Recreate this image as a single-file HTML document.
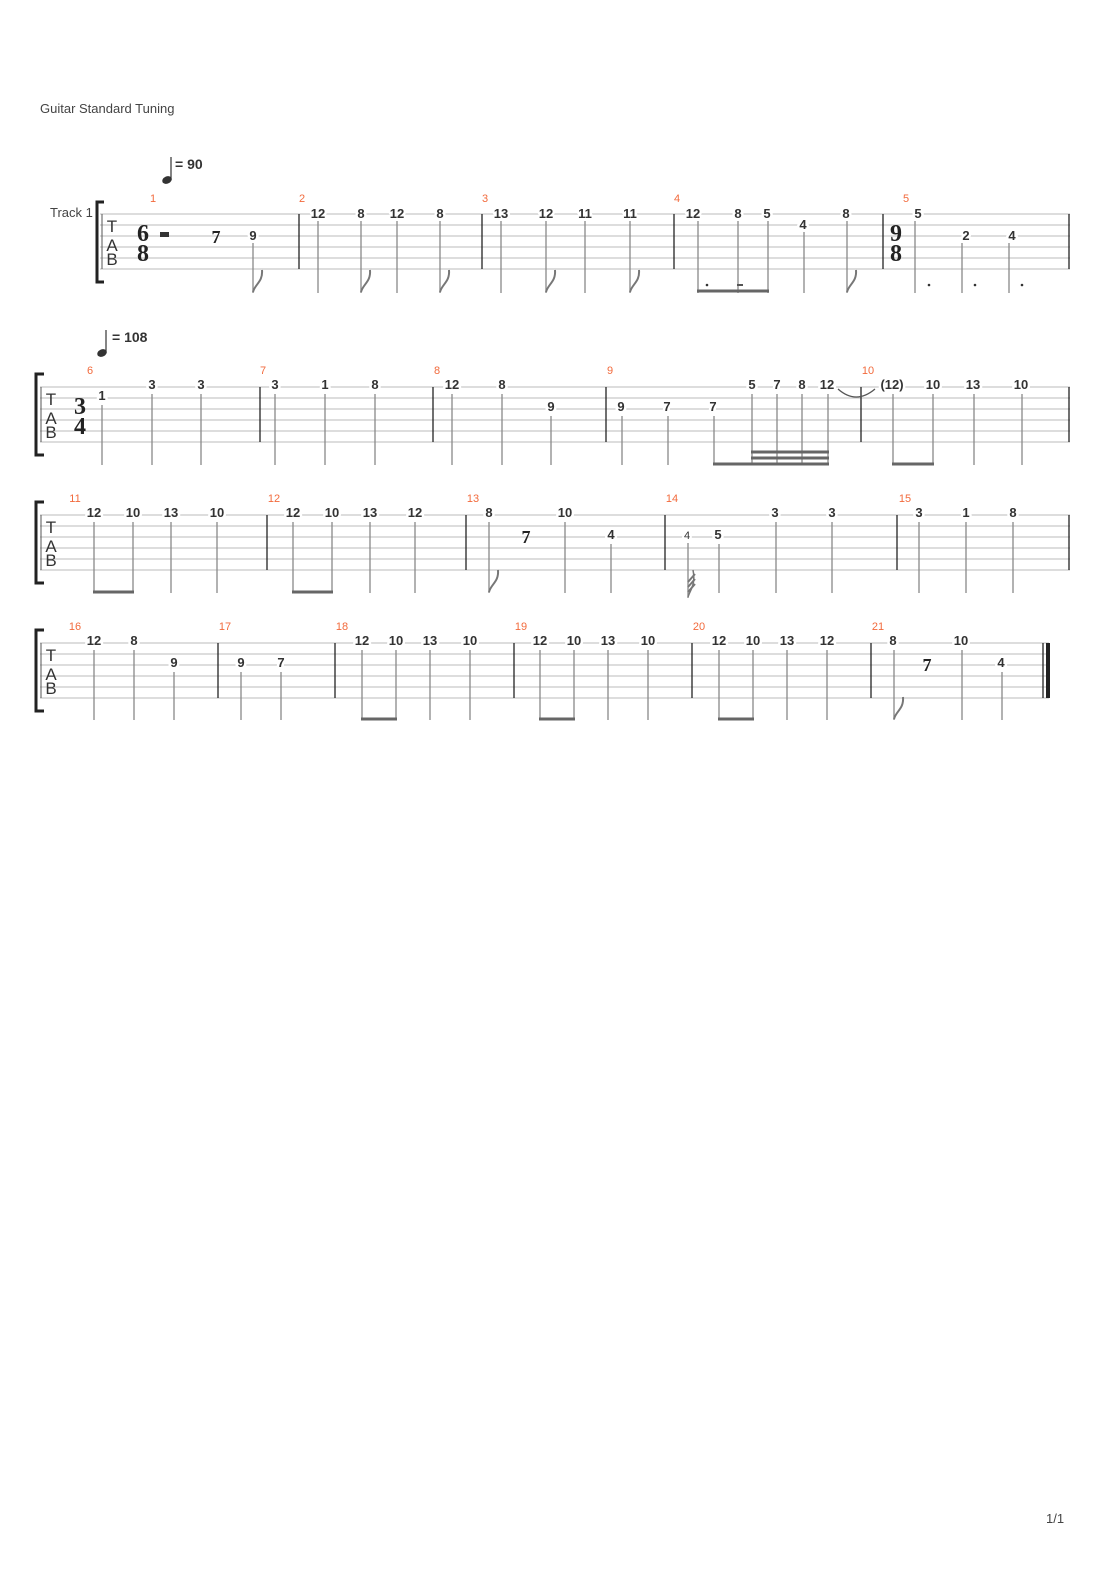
<!DOCTYPE html>
<html><head><meta charset="utf-8"><style>
body{margin:0;background:#fff}
svg{display:block}
.n{font:bold 13px "Liberation Sans",sans-serif;fill:#333;text-anchor:middle;paint-order:stroke;stroke:#fff;stroke-width:5px;stroke-linejoin:round}
.sn{font:12px "Liberation Sans",sans-serif;fill:#333;text-anchor:middle;paint-order:stroke;stroke:#fff;stroke-width:4px}
.m{font:11px "Liberation Sans",sans-serif;fill:#f26a3c;text-anchor:middle}
.ts{font:bold 24px "Liberation Serif",serif;fill:#222;text-anchor:middle}
.tab{font:17px "Liberation Sans",sans-serif;fill:#333;text-anchor:middle}
.st line{stroke:#888;stroke-width:1.3}
.sl line{stroke:#bbb;stroke-width:1}
.bl{stroke:#222;stroke-width:1.3}
.fl{fill:none;stroke:#777;stroke-width:2}
.bm{stroke:#666;stroke-width:3}
.tx{font:13px "Liberation Sans",sans-serif;fill:#444}
.tp{font:bold 14px "Liberation Sans",sans-serif;fill:#333}
</style></head><body>
<svg width="1110" height="1570" viewBox="0 0 1110 1570" xmlns="http://www.w3.org/2000/svg">
<text class="tx" x="40" y="113">Guitar Standard Tuning</text>
<text class="tx" x="50" y="217">Track 1</text>
<text class="tx" x="1046" y="1523">1/1</text>

<!-- tempos -->
<ellipse cx="167" cy="180" rx="5" ry="3.6" transform="rotate(-25 167 180)" fill="#333"/><line x1="171" y1="179" x2="171" y2="157" stroke="#333" stroke-width="1.2"/>
<text class="tp" x="175" y="169">= 90</text>
<ellipse cx="102" cy="353" rx="5" ry="3.6" transform="rotate(-25 102 353)" fill="#333"/><line x1="106" y1="352" x2="106" y2="330" stroke="#333" stroke-width="1.2"/>
<text class="tp" x="112" y="342">= 108</text>

<!-- ===== SYSTEM 1 (top 214) ===== -->
<g class="sl"><line x1="100" y1="214" x2="1070" y2="214"/><line x1="100" y1="225" x2="1070" y2="225"/><line x1="100" y1="236" x2="1070" y2="236"/><line x1="100" y1="247" x2="1070" y2="247"/><line x1="100" y1="258" x2="1070" y2="258"/><line x1="100" y1="269" x2="1070" y2="269"/></g>
<path d="M104 202 L97 202 L97 282 L104 282" fill="none" stroke="#222" stroke-width="3"/>
<line x1="102" y1="214" x2="102" y2="269" stroke="#555" stroke-width="1"/>
<g class="bl"><line x1="299" y1="214" x2="299" y2="269"/><line x1="482" y1="214" x2="482" y2="269"/><line x1="674" y1="214" x2="674" y2="269"/><line x1="883" y1="214" x2="883" y2="269"/><line x1="1069" y1="214" x2="1069" y2="269"/></g>
<text class="tab" x="112" y="232">T</text><text class="tab" x="112" y="251">A</text><text class="tab" x="112" y="265">B</text>
<text class="ts" x="143" y="241">6</text><text class="ts" x="143" y="261">8</text>
<rect x="160" y="232" width="9" height="5" fill="#333"/>
<text class="ts" x="216" y="243" style="font-size:18px">7</text>
<text class="ts" x="896" y="241">9</text><text class="ts" x="896" y="261">8</text>
<g class="m"><text x="153" y="202">1</text><text x="302" y="202">2</text><text x="485" y="202">3</text><text x="677" y="202">4</text><text x="906" y="202">5</text></g>
<g class="st">
<line x1="253" y1="243" x2="253" y2="293"/><line x1="318" y1="221" x2="318" y2="293"/><line x1="361" y1="221" x2="361" y2="293"/><line x1="397" y1="221" x2="397" y2="293"/><line x1="440" y1="221" x2="440" y2="293"/>
<line x1="501" y1="221" x2="501" y2="293"/><line x1="546" y1="221" x2="546" y2="293"/><line x1="585" y1="221" x2="585" y2="293"/><line x1="630" y1="221" x2="630" y2="293"/>
<line x1="698" y1="221" x2="698" y2="293"/><line x1="738" y1="221" x2="738" y2="293"/><line x1="768" y1="221" x2="768" y2="293"/><line x1="804" y1="232" x2="804" y2="293"/><line x1="847" y1="221" x2="847" y2="293"/>
<line x1="915" y1="221" x2="915" y2="293"/><line x1="962" y1="243" x2="962" y2="293"/><line x1="1009" y1="243" x2="1009" y2="293"/>
</g>
<g class="fl"><path d="M253 292 C255 284 263 282 262 270"/><path d="M361 292 C363 284 371 282 370 270"/><path d="M440 292 C442 284 450 282 449 270"/><path d="M546 292 C548 284 556 282 555 270"/><path d="M630 292 C632 284 640 282 639 270"/><path d="M847 292 C849 284 857 282 856 270"/></g>
<line class="bm" x1="697" y1="291" x2="769" y2="291"/>
<circle cx="707" cy="285" r="1.3" fill="#333"/><rect x="737" y="284" width="6" height="2" fill="#555"/>
<circle cx="929" cy="285" r="1.3" fill="#333"/><circle cx="975" cy="285" r="1.3" fill="#333"/><circle cx="1022" cy="285" r="1.3" fill="#333"/>
<g class="n">
<text x="253" y="240">9</text><text x="318" y="218">12</text><text x="361" y="218">8</text><text x="397" y="218">12</text><text x="440" y="218">8</text>
<text x="501" y="218">13</text><text x="546" y="218">12</text><text x="585" y="218">11</text><text x="630" y="218">11</text>
<text x="693" y="218">12</text><text x="738" y="218">8</text><text x="767" y="218">5</text><text x="803" y="229">4</text><text x="846" y="218">8</text>
<text x="918" y="218">5</text><text x="966" y="240">2</text><text x="1012" y="240">4</text>
</g>

<!-- ===== SYSTEM 2 (top 387) ===== -->
<g class="sl"><line x1="40" y1="387" x2="1070" y2="387"/><line x1="40" y1="398" x2="1070" y2="398"/><line x1="40" y1="409" x2="1070" y2="409"/><line x1="40" y1="420" x2="1070" y2="420"/><line x1="40" y1="431" x2="1070" y2="431"/><line x1="40" y1="442" x2="1070" y2="442"/></g>
<path d="M44 374 L36 374 L36 455 L44 455" fill="none" stroke="#222" stroke-width="3"/>
<line x1="41" y1="387" x2="41" y2="442" stroke="#555" stroke-width="1"/>
<g class="bl"><line x1="260" y1="387" x2="260" y2="442"/><line x1="433" y1="387" x2="433" y2="442"/><line x1="606" y1="387" x2="606" y2="442"/><line x1="861" y1="387" x2="861" y2="442"/><line x1="1069" y1="387" x2="1069" y2="442"/></g>
<text class="tab" x="51" y="405">T</text><text class="tab" x="51" y="424">A</text><text class="tab" x="51" y="438">B</text>
<text class="ts" x="80" y="414">3</text><text class="ts" x="80" y="434">4</text>
<g class="m"><text x="90" y="374">6</text><text x="263" y="374">7</text><text x="437" y="374">8</text><text x="610" y="374">9</text><text x="868" y="374">10</text></g>
<g class="st">
<line x1="102" y1="405" x2="102" y2="465"/><line x1="152" y1="394" x2="152" y2="465"/><line x1="201" y1="394" x2="201" y2="465"/>
<line x1="275" y1="394" x2="275" y2="465"/><line x1="325" y1="394" x2="325" y2="465"/><line x1="375" y1="394" x2="375" y2="465"/>
<line x1="452" y1="394" x2="452" y2="465"/><line x1="502" y1="394" x2="502" y2="465"/><line x1="551" y1="416" x2="551" y2="465"/>
<line x1="622" y1="416" x2="622" y2="465"/><line x1="668" y1="416" x2="668" y2="465"/><line x1="714" y1="416" x2="714" y2="465"/>
<line x1="752" y1="394" x2="752" y2="465"/><line x1="777" y1="394" x2="777" y2="465"/><line x1="802" y1="394" x2="802" y2="465"/><line x1="828" y1="394" x2="828" y2="465"/>
<line x1="893" y1="394" x2="893" y2="465"/><line x1="933" y1="394" x2="933" y2="465"/><line x1="974" y1="394" x2="974" y2="465"/><line x1="1022" y1="394" x2="1022" y2="465"/>
</g>
<g class="bm"><line x1="713" y1="464" x2="829" y2="464"/><line x1="751" y1="452" x2="829" y2="452"/><line x1="751" y1="458" x2="829" y2="458"/><line x1="892" y1="464" x2="934" y2="464"/></g>
<path d="M838 389 Q856 405 875 389" fill="none" stroke="#555" stroke-width="1.3"/>
<g class="n">
<text x="102" y="400">1</text><text x="152" y="389">3</text><text x="201" y="389">3</text>
<text x="275" y="389">3</text><text x="325" y="389">1</text><text x="375" y="389">8</text>
<text x="452" y="389">12</text><text x="502" y="389">8</text><text x="551" y="411">9</text>
<text x="621" y="411">9</text><text x="667" y="411">7</text><text x="713" y="411">7</text>
<text x="752" y="389">5</text><text x="777" y="389">7</text><text x="802" y="389">8</text><text x="827" y="389">12</text>
<text x="892" y="389">(12)</text><text x="933" y="389">10</text><text x="973" y="389">13</text><text x="1021" y="389">10</text>
</g>

<!-- ===== SYSTEM 3 (top 515) ===== -->
<g class="sl"><line x1="40" y1="515" x2="1070" y2="515"/><line x1="40" y1="526" x2="1070" y2="526"/><line x1="40" y1="537" x2="1070" y2="537"/><line x1="40" y1="548" x2="1070" y2="548"/><line x1="40" y1="559" x2="1070" y2="559"/><line x1="40" y1="570" x2="1070" y2="570"/></g>
<path d="M44 502 L36 502 L36 583 L44 583" fill="none" stroke="#222" stroke-width="3"/>
<line x1="41" y1="515" x2="41" y2="570" stroke="#555" stroke-width="1"/>
<g class="bl"><line x1="267" y1="515" x2="267" y2="570"/><line x1="466" y1="515" x2="466" y2="570"/><line x1="665" y1="515" x2="665" y2="570"/><line x1="897" y1="515" x2="897" y2="570"/><line x1="1069" y1="515" x2="1069" y2="570"/></g>
<text class="tab" x="51" y="533">T</text><text class="tab" x="51" y="552">A</text><text class="tab" x="51" y="566">B</text>
<g class="m"><text x="75" y="502">11</text><text x="274" y="502">12</text><text x="473" y="502">13</text><text x="672" y="502">14</text><text x="905" y="502">15</text></g>
<text class="ts" x="526" y="543" style="font-size:18px">7</text>
<g class="st">
<line x1="94" y1="522" x2="94" y2="593"/><line x1="133" y1="522" x2="133" y2="593"/><line x1="171" y1="522" x2="171" y2="593"/><line x1="217" y1="522" x2="217" y2="593"/>
<line x1="293" y1="522" x2="293" y2="593"/><line x1="332" y1="522" x2="332" y2="593"/><line x1="370" y1="522" x2="370" y2="593"/><line x1="415" y1="522" x2="415" y2="593"/>
<line x1="489" y1="522" x2="489" y2="593"/><line x1="565" y1="522" x2="565" y2="593"/><line x1="611" y1="544" x2="611" y2="593"/>
<line x1="688" y1="543" x2="688" y2="598"/><line x1="719" y1="544" x2="719" y2="593"/><line x1="776" y1="522" x2="776" y2="593"/><line x1="832" y1="522" x2="832" y2="593"/>
<line x1="919" y1="522" x2="919" y2="593"/><line x1="966" y1="522" x2="966" y2="593"/><line x1="1013" y1="522" x2="1013" y2="593"/>
</g>
<g class="bm"><line x1="93" y1="592" x2="134" y2="592"/><line x1="292" y1="592" x2="333" y2="592"/></g>
<g class="fl"><path d="M489 592 C491 584 499 582 498 570"/><path d="M688 597 C690 590 696 585 693 570" stroke-width="1.5"/><path d="M688 592 L695 584 M688 587 L695 579 M688 582 L695 574"/></g>
<g class="n">
<text x="94" y="517">12</text><text x="133" y="517">10</text><text x="171" y="517">13</text><text x="217" y="517">10</text>
<text x="293" y="517">12</text><text x="332" y="517">10</text><text x="370" y="517">13</text><text x="415" y="517">12</text>
<text x="489" y="517">8</text><text x="565" y="517">10</text><text x="611" y="539">4</text>
<text x="718" y="539">5</text><text x="775" y="517">3</text><text x="832" y="517">3</text>
<text x="919" y="517">3</text><text x="966" y="517">1</text><text x="1013" y="517">8</text>
</g>
<text class="sn" x="687" y="539" style="font-size:11px">4</text>

<!-- ===== SYSTEM 4 (top 643) ===== -->
<g class="sl"><line x1="40" y1="643" x2="1049" y2="643"/><line x1="40" y1="654" x2="1049" y2="654"/><line x1="40" y1="665" x2="1049" y2="665"/><line x1="40" y1="676" x2="1049" y2="676"/><line x1="40" y1="687" x2="1049" y2="687"/><line x1="40" y1="698" x2="1049" y2="698"/></g>
<path d="M44 630 L36 630 L36 711 L44 711" fill="none" stroke="#222" stroke-width="3"/>
<line x1="41" y1="643" x2="41" y2="698" stroke="#555" stroke-width="1"/>
<g class="bl"><line x1="218" y1="643" x2="218" y2="698"/><line x1="335" y1="643" x2="335" y2="698"/><line x1="514" y1="643" x2="514" y2="698"/><line x1="692" y1="643" x2="692" y2="698"/><line x1="871" y1="643" x2="871" y2="698"/><line x1="1043" y1="643" x2="1043" y2="698"/></g>
<rect x="1046" y="643" width="4" height="55" fill="#222"/>
<text class="tab" x="51" y="661">T</text><text class="tab" x="51" y="680">A</text><text class="tab" x="51" y="694">B</text>
<g class="m"><text x="75" y="630">16</text><text x="225" y="630">17</text><text x="342" y="630">18</text><text x="521" y="630">19</text><text x="699" y="630">20</text><text x="878" y="630">21</text></g>
<text class="ts" x="927" y="671" style="font-size:18px">7</text>
<g class="st">
<line x1="94" y1="650" x2="94" y2="720"/><line x1="134" y1="650" x2="134" y2="720"/><line x1="174" y1="672" x2="174" y2="720"/>
<line x1="241" y1="672" x2="241" y2="720"/><line x1="281" y1="672" x2="281" y2="720"/>
<line x1="362" y1="650" x2="362" y2="720"/><line x1="396" y1="650" x2="396" y2="720"/><line x1="430" y1="650" x2="430" y2="720"/><line x1="470" y1="650" x2="470" y2="720"/>
<line x1="540" y1="650" x2="540" y2="720"/><line x1="574" y1="650" x2="574" y2="720"/><line x1="608" y1="650" x2="608" y2="720"/><line x1="648" y1="650" x2="648" y2="720"/>
<line x1="719" y1="650" x2="719" y2="720"/><line x1="753" y1="650" x2="753" y2="720"/><line x1="787" y1="650" x2="787" y2="720"/><line x1="827" y1="650" x2="827" y2="720"/>
<line x1="894" y1="650" x2="894" y2="720"/><line x1="962" y1="650" x2="962" y2="720"/><line x1="1002" y1="672" x2="1002" y2="720"/>
</g>
<g class="bm"><line x1="361" y1="719" x2="397" y2="719"/><line x1="539" y1="719" x2="575" y2="719"/><line x1="718" y1="719" x2="754" y2="719"/></g>
<g class="fl"><path d="M894 719 C896 711 904 709 903 697"/></g>
<g class="n">
<text x="94" y="645">12</text><text x="134" y="645">8</text><text x="174" y="667">9</text>
<text x="241" y="667">9</text><text x="281" y="667">7</text>
<text x="362" y="645">12</text><text x="396" y="645">10</text><text x="430" y="645">13</text><text x="470" y="645">10</text>
<text x="540" y="645">12</text><text x="574" y="645">10</text><text x="608" y="645">13</text><text x="648" y="645">10</text>
<text x="719" y="645">12</text><text x="753" y="645">10</text><text x="787" y="645">13</text><text x="827" y="645">12</text>
<text x="893" y="645">8</text><text x="961" y="645">10</text><text x="1001" y="667">4</text>
</g>
</svg>
</body></html>
